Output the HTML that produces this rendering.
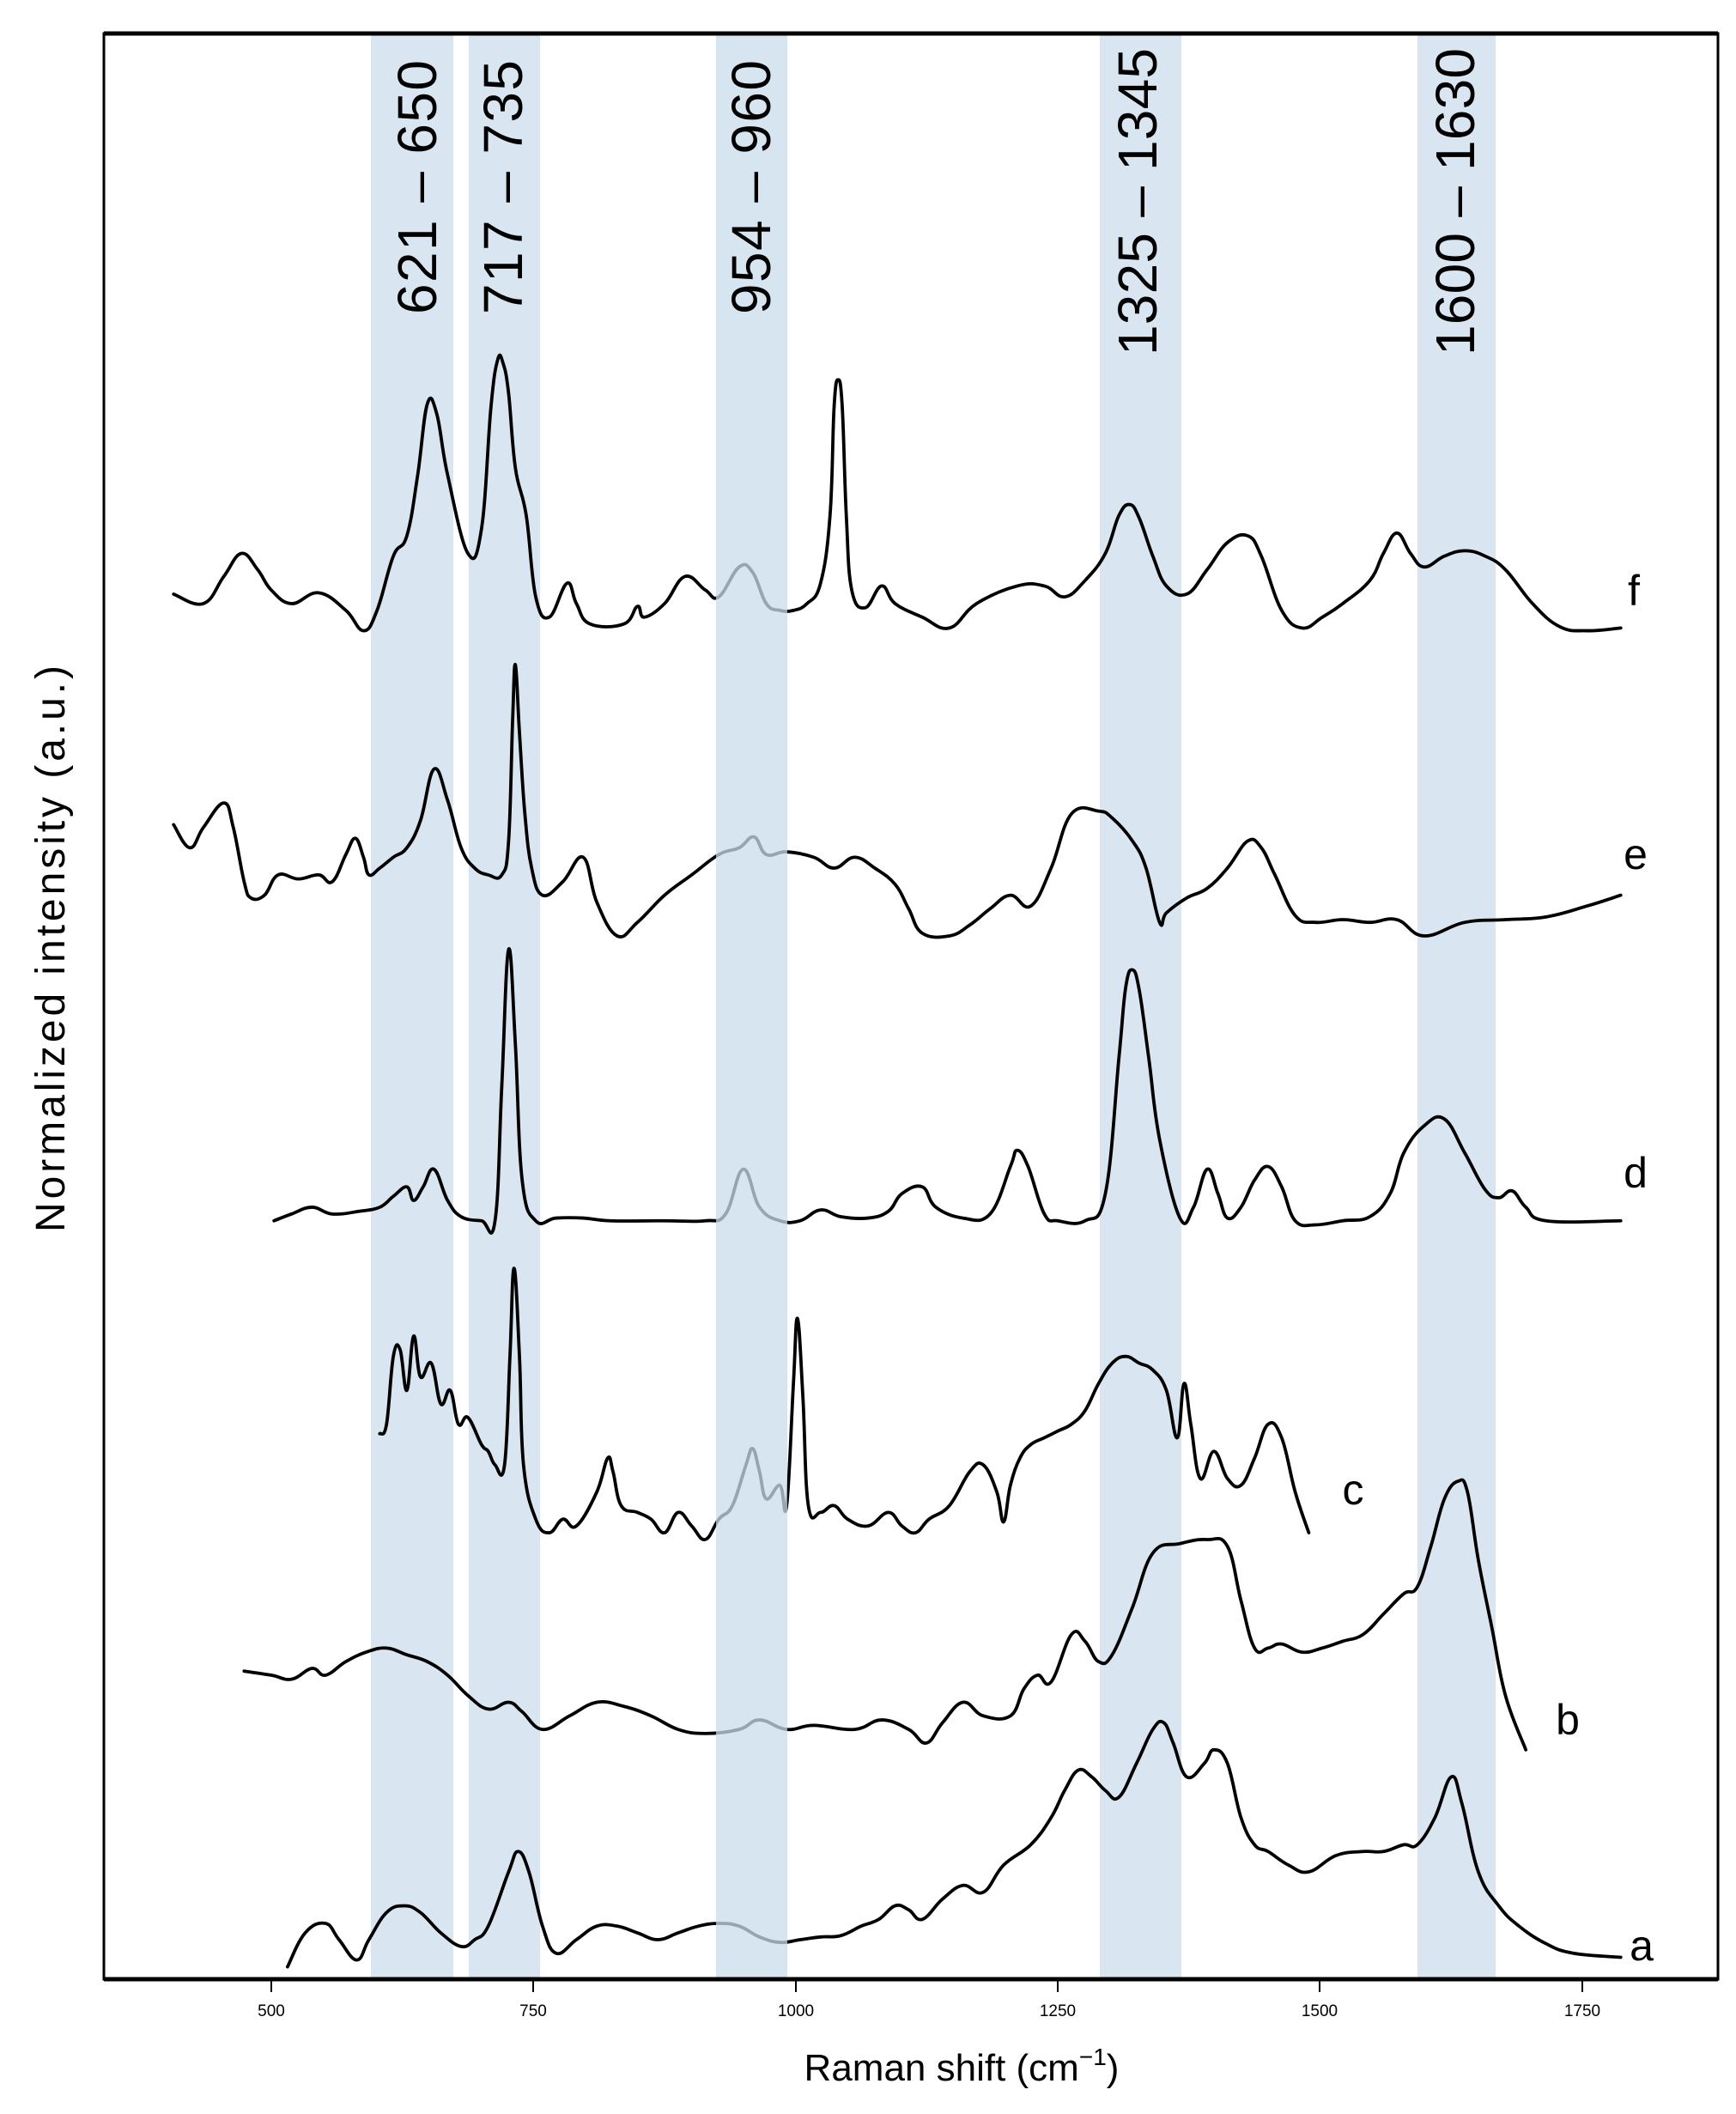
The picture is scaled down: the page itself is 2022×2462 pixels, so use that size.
<!DOCTYPE html>
<html><head><meta charset="utf-8"><style>
html,body{margin:0;padding:0;background:#fff;}
svg{display:block;}
</style></head><body>
<svg id="s" width="2022" height="2462" viewBox="0 0 2022 2462" xmlns="http://www.w3.org/2000/svg" font-family="Liberation Sans, sans-serif">
<rect width="2022" height="2462" fill="#fff"/>
<g fill="#d9e6f2">
<rect x="432" y="40" width="96" height="2264"/>
<rect x="546" y="40" width="83" height="2264"/>
<rect x="1281" y="40" width="95" height="2264"/>
<rect x="1651" y="40" width="91" height="2264"/>
</g>
<g id="curves" transform="scale(1.5797)" fill="none" stroke="#000" stroke-width="2.4" stroke-linejoin="round" stroke-linecap="round">
<polyline points="128,438 150,445 165,425 178,408 190,420 200,435 215,445 235,437 255,450 268,465 278,450 290,410 300,395 308,350 315,298 322,305 330,350 345,408 355,390 362,300 367,265 371,268 375,290 380,345 388,380 395,440 405,455 418,430 425,445 435,460 460,460 470,447 475,455 490,445 505,425 520,435 530,440 545,418 555,422 565,445 575,450 585,450 595,445 605,430 612,380 615,300 618,280 621,300 624,380 628,435 638,448 650,432 660,445 680,455 700,463 720,445 750,432 770,432 785,440 800,428 815,408 825,380 833,372 840,382 850,410 860,432 875,438 890,420 905,400 920,395 930,410 945,450 960,463 975,455 990,445 1010,428 1020,408 1030,393 1040,408 1050,418 1065,410 1080,406 1095,410 1110,420 1130,445 1150,462 1170,465 1195,463"/>
<polyline points="128,608 140,625 150,610 165,592 172,610 180,650 185,662 195,660 205,645 220,648 235,645 245,650 255,630 262,618 268,632 272,645 280,640 290,632 300,625 310,605 320,567 330,590 340,625 350,640 360,645 370,645 375,620 378,530 380,490 383,540 387,600 392,640 400,660 415,650 430,632 440,665 455,690 470,680 490,660 510,645 530,630 545,625 556,617 565,630 580,628 600,632 615,640 630,632 645,640 660,652 670,670 680,688 700,690 715,682 730,670 745,660 760,668 775,640 790,600 810,598 820,603 835,620 845,640 855,680 860,673 875,662 890,655 905,640 920,620 930,625 940,645 955,675 970,680 990,678 1010,680 1030,678 1050,690 1080,680 1110,678 1140,676 1170,668 1195,660"/>
<polyline points="202,900 215,895 230,890 245,895 265,893 280,890 290,882 300,875 305,885 312,875 320,862 330,885 340,897 355,900 365,900 370,800 375,700 380,770 385,870 395,900 410,898 430,898 450,900 490,900 520,900 535,895 548,862 560,890 575,900 590,900 605,892 620,897 640,898 655,893 665,880 680,875 690,890 710,898 730,895 745,860 750,848 758,860 770,895 780,900 800,900 815,880 825,780 830,728 835,715 840,730 847,780 855,840 870,898 880,890 890,862 898,880 905,898 915,890 925,870 935,860 945,875 955,900 970,903 990,900 1010,897 1025,880 1035,850 1050,830 1065,825 1080,850 1095,877 1105,883 1115,878 1125,890 1140,900 1195,900"/>
<polyline points="280,1057 285,1050 290,1000 295,995 300,1025 305,985 310,1015 318,1005 325,1035 332,1025 338,1050 345,1045 355,1065 360,1070 365,1080 372,1080 376,1000 379,935 383,1000 386,1080 395,1120 405,1130 415,1120 425,1125 440,1100 448,1075 452,1085 458,1110 470,1115 480,1120 490,1130 500,1115 510,1125 520,1135 530,1120 540,1110 550,1080 555,1068 560,1085 565,1105 575,1095 580,1110 585,1020 588,972 592,1030 596,1110 605,1115 615,1110 625,1120 640,1125 655,1115 665,1125 675,1130 685,1120 700,1110 715,1085 725,1080 735,1100 740,1122 745,1095 752,1075 760,1065 770,1060 780,1055 790,1050 800,1040 810,1020 820,1005 830,1000 840,1005 850,1010 860,1025 868,1060 873,1020 878,1050 885,1090 895,1070 905,1090 915,1095 925,1075 935,1050 945,1060 955,1100 965,1130"/>
<polyline points="180,1232 200,1235 215,1238 230,1230 240,1235 255,1225 270,1218 285,1215 300,1220 315,1225 330,1235 345,1250 360,1260 375,1255 385,1262 400,1275 420,1265 440,1255 460,1258 480,1265 500,1275 520,1278 545,1275 560,1268 580,1275 600,1272 630,1275 650,1268 670,1275 683,1285 695,1270 710,1255 725,1265 745,1265 755,1245 765,1235 775,1240 790,1205 800,1210 810,1225 820,1220 835,1185 850,1145 870,1138 890,1135 905,1140 915,1180 925,1215 935,1215 945,1212 960,1218 975,1215 990,1210 1005,1205 1020,1190 1035,1175 1045,1170 1055,1140 1065,1105 1075,1092 1082,1100 1090,1150 1100,1200 1110,1250 1125,1290"/>
<polyline points="212,1450 225,1425 240,1418 250,1430 263,1445 272,1430 285,1410 298,1405 310,1410 325,1425 340,1435 350,1430 360,1420 375,1380 382,1365 390,1380 400,1420 410,1440 425,1430 440,1420 455,1420 470,1425 485,1430 500,1425 515,1420 530,1418 545,1420 560,1428 575,1432 590,1430 605,1428 620,1427 635,1420 648,1415 660,1405 670,1408 680,1415 695,1400 710,1390 725,1395 740,1375 760,1360 775,1340 785,1320 795,1305 805,1310 815,1320 825,1325 838,1300 850,1275 858,1270 865,1285 875,1310 888,1300 895,1290 905,1300 915,1340 925,1360 935,1365 950,1375 965,1380 985,1368 1005,1365 1020,1365 1035,1360 1045,1360 1058,1340 1070,1310 1078,1330 1090,1380 1105,1405 1120,1420 1140,1433 1160,1440 1195,1443"/>
</g>
<rect x="834" y="40" width="83" height="2264" fill="#c9dcec" opacity="0.75"/>
<g fill="none" stroke="#000">
<rect x="121" y="39" width="1880" height="2266" stroke-width="3"/>
<line x1="121" y1="39" x2="2001" y2="39" stroke-width="5"/>
<line x1="121" y1="2305" x2="2001" y2="2305" stroke-width="5"/>
<g stroke-width="2">
<line x1="316" y1="2307" x2="316" y2="2320"/><line x1="621" y1="2307" x2="621" y2="2320"/><line x1="927" y1="2307" x2="927" y2="2320"/><line x1="1232" y1="2307" x2="1232" y2="2320"/><line x1="1537" y1="2307" x2="1537" y2="2320"/><line x1="1843" y1="2307" x2="1843" y2="2320"/>
</g>
</g>
<g font-size="19" text-anchor="middle" fill="#000">
<text x="316" y="2348">500</text><text x="621" y="2348">750</text><text x="927" y="2348">1000</text><text x="1232" y="2348">1250</text><text x="1537" y="2348">1500</text><text x="1843" y="2348">1750</text>
</g>
<text x="1120" y="2423" font-size="44" text-anchor="middle">Raman shift (cm<tspan font-size="28" dy="-18">−1</tspan><tspan dy="18">)</tspan></text>
<text transform="translate(75,1105) rotate(-90)" font-size="48" text-anchor="middle" textLength="660">Normalized intensity (a.u.)</text>
<g font-size="64" fill="#000">
<text transform="translate(508,366) rotate(-90)" textLength="296">621 – 650</text>
<text transform="translate(608,366) rotate(-90)" textLength="296">717 – 735</text>
<text transform="translate(897,366) rotate(-90)" textLength="296">954 – 960</text>
<text transform="translate(1347,414) rotate(-90)" textLength="358">1325 – 1345</text>
<text transform="translate(1717,414) rotate(-90)" textLength="358">1600 – 1630</text>
</g>
<g font-size="50" fill="#000" text-anchor="middle">
<text x="1903" y="705">f</text>
<text x="1905" y="1012">e</text>
<text x="1905" y="1383">d</text>
<text x="1576" y="1752">c</text>
<text x="1826" y="2020">b</text>
<text x="1912" y="2283">a</text>
</g>
</svg>
<script>
(function(){
var ns="http://www.w3.org/2000/svg";
var pls=document.querySelectorAll('#curves polyline');
for(var k=0;k<pls.length;k++){
var pl=pls[k];
var p=pl.getAttribute('points').trim().split(/\s+/).map(function(s){var a=s.split(',');return [+a[0],+a[1]];});
var d='M'+p[0][0]+','+p[0][1];
for(var i=0;i<p.length-1;i++){
var p0=p[i-1]||p[i],p1=p[i],p2=p[i+1],p3=p[i+2]||p2;
var t=0.3;
var c1x=p1[0]+(p2[0]-p0[0])*t/1.5,c1y=p1[1]+(p2[1]-p0[1])*t/1.5;
var c2x=p2[0]-(p3[0]-p1[0])*t/1.5,c2y=p2[1]-(p3[1]-p1[1])*t/1.5;
d+=' C'+c1x.toFixed(1)+','+c1y.toFixed(1)+' '+c2x.toFixed(1)+','+c2y.toFixed(1)+' '+p2[0]+','+p2[1];
}
var path=document.createElementNS(ns,'path');
path.setAttribute('d',d);
pl.parentNode.replaceChild(path,pl);
}
})();
</script>
</body></html>
